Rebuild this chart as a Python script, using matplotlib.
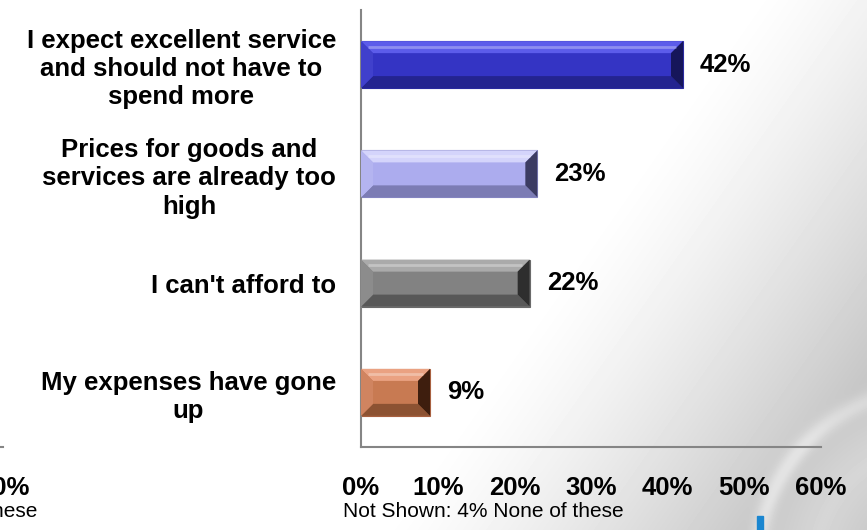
import numpy as np
import matplotlib
matplotlib.use('Agg')
import matplotlib.pyplot as plt
from matplotlib.patches import Polygon, Rectangle

plt.rcParams['font.family'] = ['Liberation Sans', 'DejaVu Sans']

categories = ['I expect excellent service\nand should not have to\nspend more',
              'Prices for goods and\nservices are already too\nhigh',
              "I can't afford to",
              'My expenses have gone\nup']
values = [42, 23, 22, 9]
xticks = [0, 10, 20, 30, 40, 50, 60]
xtick_labels = ['0%', '10%', '20%', '30%', '40%', '50%', '60%']
footnote = 'Not Shown: 4% None of these'

# main, top bevel, bottom bevel, left bevel, right bevel, edge
bar_styles = [
    ('#3434c4', '#5c5cea', '#242490', '#4040cc', '#16165a', '#2a2aa0'),
    ('#acacee', '#d4d4fb', '#7c7cb4', '#b4b4f0', '#3c3c62', '#8a8ac8'),
    ('#828282', '#aaaaaa', '#585858', '#8c8c8c', '#2e2e2e', '#6a6a6a'),
    ('#c87a52', '#eaa282', '#8c5232', '#d08460', '#3e1e0e', '#a86040'),
]

W, H = 867, 530
fig = plt.figure(figsize=(W / 100, H / 100), dpi=100)

# background swoosh in lower right
bg = fig.add_axes([0, 0, 1, 1], zorder=-5)
yy, xx = np.mgrid[0:H, 0:W]
img = np.ones((H, W))
img -= 0.22 * np.clip(((xx - 580) + 0.7 * (yy - 240)) / 380, 0, 1) ** 1.3
d1 = np.hypot(xx - 935, yy - 565)
img += 0.10 * np.exp(-((d1 - 178) / 9) ** 2) * np.clip((yy - 320) / 120, 0, 1)
img += 0.06 * np.clip(1 - np.abs(d1 - 120) / 60, 0, 1)
img = np.clip(img, 0, 1)
bg.imshow(img, cmap='gray', vmin=0, vmax=1, extent=[0, W, H, 0], aspect='auto')
bg.set_xlim(0, W)
bg.set_ylim(H, 0)
bg.axis('off')

ax = fig.add_axes([361 / W, 1 - 447 / H, 460 / W, 437 / H])
ax.patch.set_alpha(0)

pos = np.arange(len(values))[::-1]
h = 0.43
px_x = 460 / 60.0
px_y = 437 / 4.0
bx = 12 / px_x
by = 12 / px_y

for c, w, st in zip(pos, values, bar_styles):
    main, top, bot, left, right, edge = st
    ax.barh(c, w, height=h, color=main, edgecolor=edge, linewidth=0.8, zorder=2)
    t, b = c + h / 2, c - h / 2
    polys = [
        ([(0, t), (w, t), (w - bx, t - by), (bx, t - by)], top),
        ([(0, b), (w, b), (w - bx, b + by), (bx, b + by)], bot),
        ([(0, b), (0, t), (bx, t - by), (bx, b + by)], left),
        ([(w, b), (w, t), (w - bx, t - by), (w - bx, b + by)], right),
    ]
    for pts, col in polys:
        ax.add_patch(Polygon(pts, closed=True, facecolor=col, edgecolor='none', zorder=3))
    # highlight line in top bevel
    ax.plot([bx * 0.6, w - bx * 0.6], [t - by * 0.45, t - by * 0.45], color='white',
            alpha=0.3, lw=2, zorder=4, solid_capstyle='butt')
    ax.text(w + 17 / px_x, c, f'{w}%', ha='left', va='center', fontsize=18.5,
            fontweight='bold', color='black')

ax.set_xlim(0, 60)
ax.set_ylim(-0.5, 3.5)
ax.set_yticks(pos)
ax.set_yticklabels(categories, fontsize=18.5, fontweight='bold', multialignment='center',
                   linespacing=1.22)
ax.set_xticks(xticks)
ax.set_xticklabels(xtick_labels, fontsize=18.5, fontweight='bold')
ax.tick_params(axis='y', length=0, pad=18)
ax.tick_params(axis='x', length=0, pad=21)
for s in ['top', 'right']:
    ax.spines[s].set_visible(False)
for s in ['left', 'bottom']:
    ax.spines[s].set_color('#858585')
    ax.spines[s].set_linewidth(1.5)

fig.text(343 / W, 1 - 517 / H, footnote, ha='left', va='baseline', fontsize=15)

# pieces of the neighbouring slide chart, cut off at the left edge
fig.text(29 / W, 1 - 488 / H, '60%', ha='right', va='center', fontsize=18.5, fontweight='bold')
fig.text(37 / W, 1 - 517 / H, 'None of these', ha='right', va='baseline', fontsize=15)
fig.add_artist(plt.Line2D([0, 3 / W], [1 - 447 / H, 1 - 447 / H], color='#858585', lw=1.5))
# logo fragment
fig.add_artist(Rectangle((757 / W, 0), 6 / W, 14 / H, color='#1a86d0'))

fig.savefig('out.png', dpi=100)
